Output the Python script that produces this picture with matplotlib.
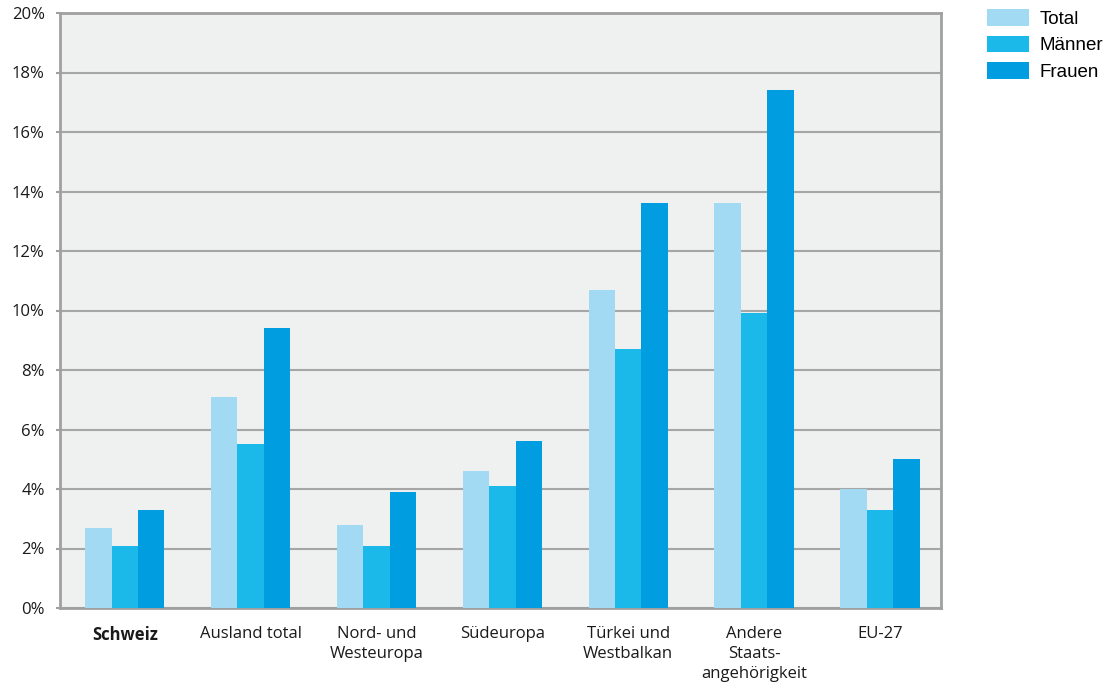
import matplotlib
matplotlib.use("Agg")
import matplotlib.pyplot as plt
import numpy as np
from matplotlib.patches import Patch

categories = ["Schweiz", "Ausland total", "Nord- und\nWesteuropa", "Südeuropa",
              "Türkei und\nWestbalkan", "Andere\nStaats-\nangehörigkeit", "EU-27"]
total = [2.7, 7.1, 2.8, 4.6, 10.7, 13.6, 4.0]
maenner = [2.1, 5.5, 2.1, 4.1, 8.7, 9.9, 3.3]
frauen = [3.3, 9.4, 3.9, 5.6, 13.6, 17.4, 5.0]
series_names = ["Total", "Männer", "Frauen"]
colors = ["#a3daf3", "#1bb9e9", "#009ee0"]
yticks = [0, 2, 4, 6, 8, 10, 12, 14, 16, 18, 20]

fig = plt.figure(figsize=(11.07, 6.87), dpi=100)
W, H = 1107, 687
ax = fig.add_axes([60 / W, (H - 608) / H, (941 - 60) / W, (608 - 13) / H])
ax.set_facecolor("#eff0f0")

x = np.arange(len(categories))
w = 0.21
for i, (vals, c) in enumerate(zip([total, maenner, frauen], colors)):
    ax.bar(x + (i - 1) * w, vals, width=w, color=c, zorder=3, linewidth=0)

ax.set_xlim(-0.515, len(categories) - 0.515)
ax.set_ylim(0, 20)
ax.set_yticks(yticks)
ax.set_yticklabels([f"{t}%" for t in yticks], fontsize=12, family="Open Sans", color="#1a1a1a")
ax.yaxis.grid(True, color="#a6a6a6", linewidth=1.5, zorder=1)
ax.set_axisbelow(True)
ax.tick_params(axis="y", length=3, width=1.5, color="#a0a0a0", pad=8)
ax.set_xticks(x)
ax.set_xticklabels(categories, fontsize=12, family="Open Sans", color="#1a1a1a",
                   linespacing=1.32)
ax.tick_params(axis="x", length=0, pad=13)
for lbl in ax.get_xticklabels():
    if lbl.get_text() == "Schweiz":
        lbl.set_fontweight("bold")
for s in ax.spines.values():
    s.set_color("#a0a0a0")
    s.set_linewidth(2)

handles = [Patch(facecolor=c, edgecolor="none") for c in colors]
fs = 13.5
fig.legend(handles, series_names, loc="upper left",
           bbox_to_anchor=(987 / W, 1 - 9 / H), frameon=False,
           prop={"family": "Liberation Sans", "size": fs},
           handlelength=2.24, handleheight=1.0, labelspacing=0.42, handletextpad=0.55,
           borderaxespad=0, borderpad=0)

fig.savefig("out.png", dpi=100)
